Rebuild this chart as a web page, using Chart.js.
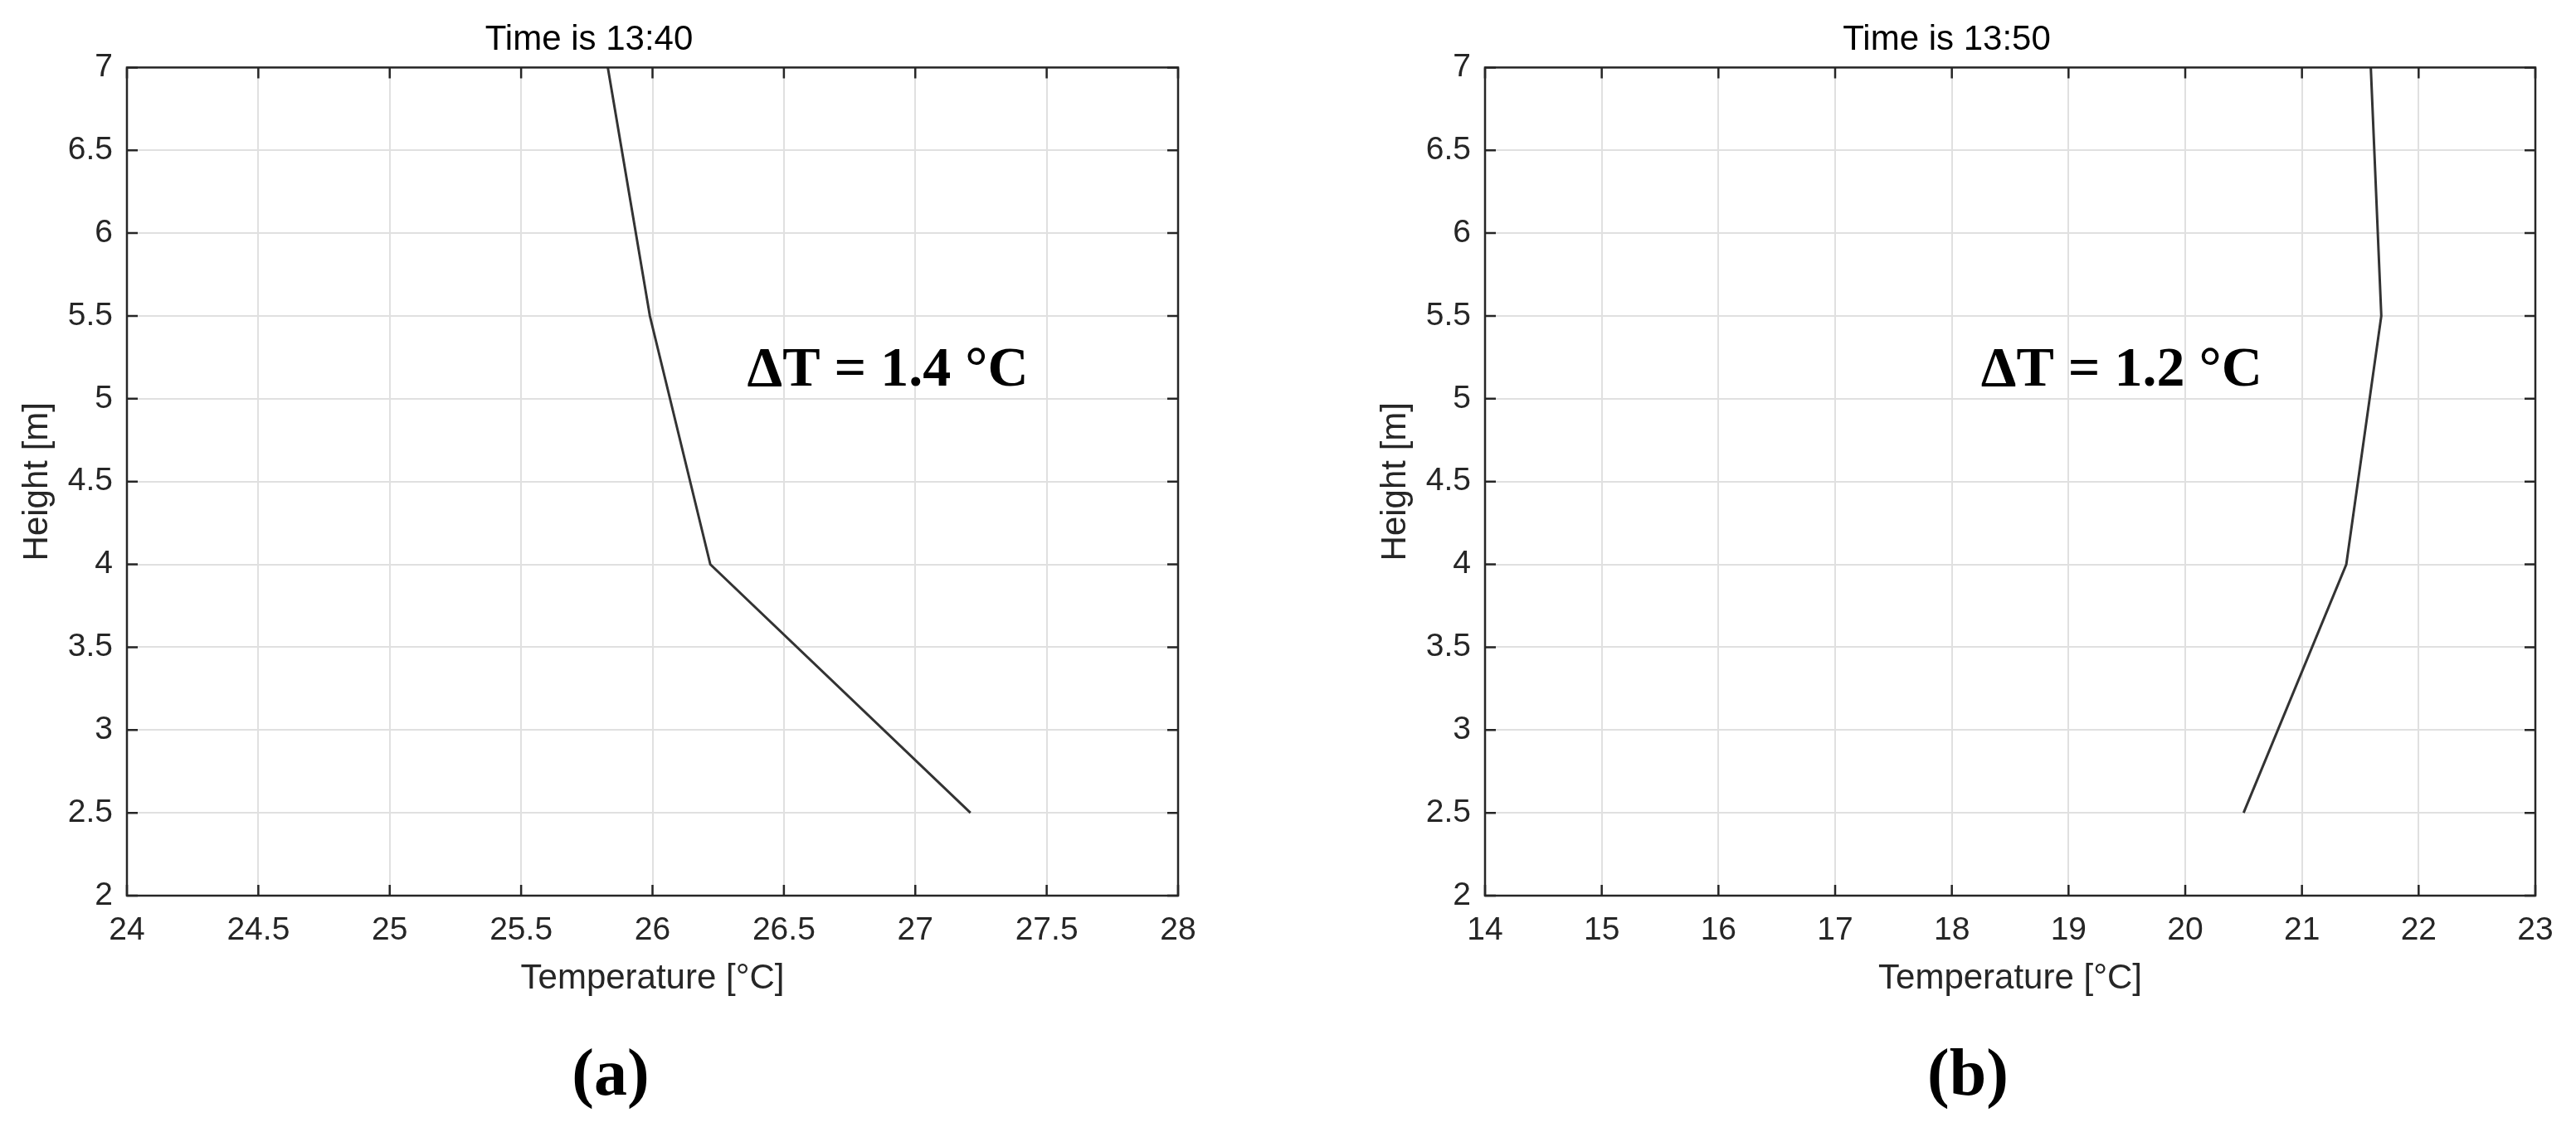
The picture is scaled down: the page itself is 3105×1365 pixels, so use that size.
<!DOCTYPE html>
<html>
<head>
<meta charset="utf-8">
<script src="https://cdn.jsdelivr.net/npm/chart.js@4.4.1/dist/chart.umd.min.js"></script>
<style>
  html, body { margin: 0; padding: 0; background: #fff; }
  body { width: 3105px; height: 1365px; position: relative; overflow: hidden; }
  .panel { position: absolute; top: 0; }
  .tag { position: absolute; top: 1253px; width: 200px; text-align: center;
         font: bold 80px "Liberation Serif", serif; line-height: 80px; color: #000; }
</style>
</head>
<body>
<div class="panel" style="left:0"><canvas id="chart-a" width="1560" height="1365"></canvas></div>
<div class="panel" style="left:1637px"><canvas id="chart-b" width="1468" height="1365"></canvas></div>
<div class="tag" style="left:636px">(a)</div>
<div class="tag" style="left:2272px">(b)</div>
<script>
// measured heights (m) and temperatures (°C) for the two times
const heights = [2.5, 4, 5.5, 7];
const tempsA = [27.21, 26.22, 25.99, 25.83];
const tempsB = [20.50, 21.38, 21.68, 21.59];

const yTicks = [2, 2.5, 3, 3.5, 4, 4.5, 5, 5.5, 6, 6.5, 7];
const xTicksA = [24, 24.5, 25, 25.5, 26, 26.5, 27, 27.5, 28];
const xTicksB = [14, 15, 16, 17, 18, 19, 20, 21, 22, 23];

const titleA = 'Time is 13:40';
const titleB = 'Time is 13:50';
const noteA = 'ΔT = 1.4 °C';
const noteB = 'ΔT = 1.2 °C';

const axisColor = '#262626';
const gridColor = '#e0e0e0';
const sansFont = '"Liberation Sans", Arial, sans-serif';

// matlab style box: closed frame, inward ticks on all sides, text note in data units
const matlabAxes = {
    id: 'matlabAxes',
    afterDraw(chart, args, opts) {
        const { ctx, chartArea: a } = chart;
        const x = chart.scales.x;
        const y = chart.scales.y;
        ctx.save();
        ctx.strokeStyle = axisColor;
        ctx.lineWidth = 2.5;
        ctx.beginPath();
        for (const t of x.ticks) {
            const px = x.getPixelForValue(t.value);
            ctx.moveTo(px, a.bottom); ctx.lineTo(px, a.bottom - 13);
            ctx.moveTo(px, a.top); ctx.lineTo(px, a.top + 13);
        }
        for (const t of y.ticks) {
            const py = y.getPixelForValue(t.value);
            ctx.moveTo(a.left, py); ctx.lineTo(a.left + 13, py);
            ctx.moveTo(a.right, py); ctx.lineTo(a.right - 13, py);
        }
        ctx.stroke();
        ctx.strokeRect(a.left, a.top, a.right - a.left, a.bottom - a.top);

        ctx.fillStyle = '#000';
        ctx.font = 'bold 68px "Liberation Serif", "Times New Roman", serif';
        ctx.textBaseline = 'alphabetic';
        ctx.textAlign = 'left';
        ctx.fillText(opts.text, x.getPixelForValue(opts.at[0]), y.getPixelForValue(opts.at[1]));
        ctx.restore();
    }
};

function makeChart(canvasId, title, temps, xTicks, note, noteAt, padRight) {
    return new Chart(document.getElementById(canvasId), {
        type: 'scatter',
        data: {
            datasets: [{
                data: heights.map((h, i) => ({ x: temps[i], y: h })),
                showLine: true,
                borderColor: '#333333',
                borderWidth: 3,
                pointRadius: 0,
                fill: false
            }]
        },
        options: {
            responsive: false,
            animation: false,
            layout: { padding: { left: 0, right: padRight, top: 0, bottom: 145 } },
            plugins: {
                legend: { display: false },
                tooltip: { enabled: false },
                title: {
                    display: true,
                    text: title,
                    color: '#000',
                    font: { family: sansFont, size: 42, weight: 'normal', lineHeight: 1.2 },
                    padding: { top: 23, bottom: 8 }
                },
                matlabAxes: { text: note, at: noteAt }
            },
            scales: {
                x: {
                    type: 'linear',
                    min: xTicks[0],
                    max: xTicks[xTicks.length - 1],
                    afterBuildTicks: (scale) => { scale.ticks = xTicks.map(v => ({ value: v })); },
                    afterFit: (scale) => { scale.height = 140; },
                    grid: { color: gridColor, lineWidth: 2, drawTicks: false },
                    border: { display: false },
                    ticks: {
                        color: axisColor,
                        padding: 19,
                        maxRotation: 0,
                        autoSkip: false,
                        font: { family: sansFont, size: 39 },
                        callback: (v) => String(v)
                    },
                    title: {
                        display: true,
                        text: 'Temperature [°C]',
                        color: axisColor,
                        font: { family: sansFont, size: 42, lineHeight: 1.2 },
                        padding: { top: 0, bottom: 14 }
                    }
                },
                y: {
                    type: 'linear',
                    min: yTicks[0],
                    max: yTicks[yTicks.length - 1],
                    afterBuildTicks: (scale) => { scale.ticks = yTicks.map(v => ({ value: v })); },
                    afterFit: (scale) => { scale.width = 153; },
                    grid: { color: gridColor, lineWidth: 2, drawTicks: false },
                    border: { display: false },
                    ticks: {
                        color: axisColor,
                        padding: 17,
                        autoSkip: false,
                        font: { family: sansFont, size: 39 },
                        callback: (v) => String(v)
                    },
                    title: {
                        display: true,
                        text: 'Height [m]',
                        color: axisColor,
                        font: { family: sansFont, size: 42, lineHeight: 1.2 },
                        padding: { top: 20, bottom: 0 }
                    }
                }
            }
        },
        plugins: [matlabAxes]
    });
}

makeChart('chart-a', titleA, tempsA, xTicksA, noteA, [26.36, 5.08], 140);
makeChart('chart-b', titleB, tempsB, xTicksB, noteB, [18.25, 5.08], 49);
</script>
</body>
</html>
